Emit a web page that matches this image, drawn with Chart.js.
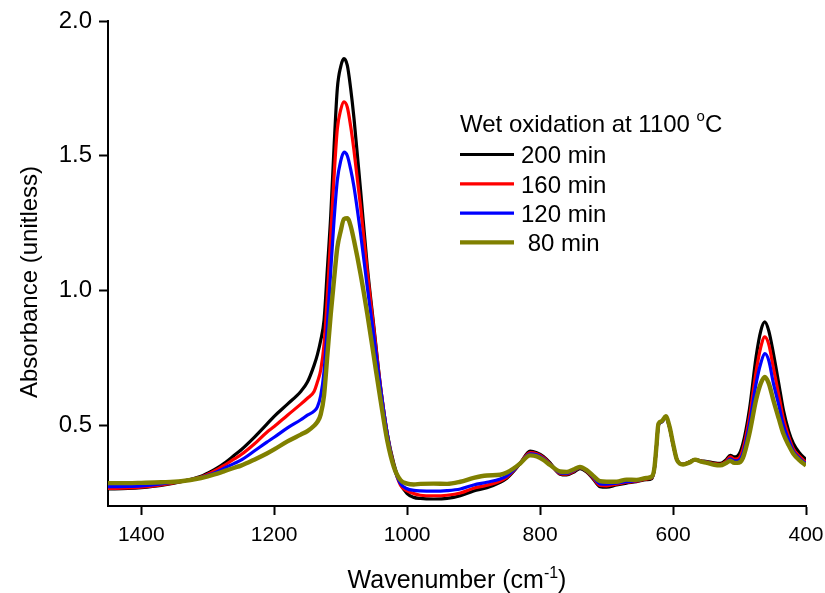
<!DOCTYPE html>
<html>
<head>
<meta charset="utf-8">
<title>FTIR absorbance after wet oxidation</title>
<script src="https://cdn.jsdelivr.net/npm/chart.js@4.4.0/dist/chart.umd.min.js"></script>
<style>
  html, body { margin: 0; padding: 0; background: #fff; }
  #wrap { width: 825px; height: 593px; }
</style>
</head>
<body>
<div id="wrap"><canvas id="spectra" width="825" height="593"></canvas></div>
<script>
'use strict';

/* DATA */
const wavenumbers = [
  1450, 1420, 1400, 1370, 1340, 1310, 1300, 1290, 1280, 1273,
  1260, 1250, 1230, 1211, 1200, 1180, 1160, 1150, 1140, 1135,
  1130, 1125, 1120, 1115, 1110, 1105, 1100, 1095, 1090, 1085,
  1080, 1070, 1060, 1050, 1040, 1030, 1020, 1010, 1000, 990,
  980, 960, 940, 920, 900, 880, 860, 850, 840, 830,
  815, 805, 795, 785, 770, 760, 750, 740, 730, 720,
  710, 700, 685, 670, 655, 640, 632, 628, 625, 622,
  617, 611, 605, 600, 594, 585, 575, 567, 558, 549,
  538, 529, 520, 514, 508, 503, 495, 485, 475, 468,
  462, 456, 449, 441, 434, 426, 419, 410, 400
];

const abs200 = [
  0.263, 0.265, 0.268, 0.276, 0.290, 0.310, 0.322, 0.335, 0.350, 0.362,
  0.388, 0.408, 0.455, 0.504, 0.533, 0.578, 0.625, 0.660, 0.722, 0.762,
  0.815, 0.890, 1.080, 1.275, 1.530, 1.750, 1.830, 1.860, 1.835, 1.750,
  1.640, 1.370, 1.090, 0.865, 0.642, 0.470, 0.357, 0.283, 0.246, 0.232,
  0.228, 0.226, 0.228, 0.238, 0.256, 0.268, 0.288, 0.303, 0.328, 0.358,
  0.404, 0.398, 0.384, 0.360, 0.318, 0.315, 0.325, 0.339, 0.326, 0.300,
  0.272, 0.270, 0.278, 0.285, 0.290, 0.298, 0.302, 0.340, 0.420, 0.500,
  0.512, 0.530, 0.490, 0.430, 0.372, 0.355, 0.364, 0.372, 0.368, 0.365,
  0.360, 0.358, 0.372, 0.388, 0.382, 0.385, 0.430, 0.560, 0.755, 0.850,
  0.883, 0.850, 0.766, 0.655, 0.556, 0.478, 0.432, 0.398, 0.372
];

const abs160 = [
  0.265, 0.267, 0.270, 0.278, 0.291, 0.308, 0.318, 0.330, 0.344, 0.354,
  0.375, 0.390, 0.430, 0.474, 0.495, 0.537, 0.578, 0.600, 0.625, 0.660,
  0.705, 0.800, 0.980, 1.200, 1.420, 1.600, 1.670, 1.700, 1.680, 1.610,
  1.520, 1.310, 1.070, 0.855, 0.642, 0.469, 0.350, 0.277, 0.256, 0.246,
  0.240, 0.238, 0.240, 0.248, 0.266, 0.277, 0.293, 0.307, 0.331, 0.359,
  0.398, 0.394, 0.380, 0.357, 0.320, 0.318, 0.328, 0.342, 0.329, 0.303,
  0.276, 0.275, 0.281, 0.288, 0.292, 0.300, 0.304, 0.340, 0.420, 0.502,
  0.513, 0.530, 0.490, 0.430, 0.371, 0.355, 0.363, 0.372, 0.367, 0.363,
  0.357, 0.355, 0.366, 0.382, 0.374, 0.375, 0.410, 0.530, 0.700, 0.790,
  0.828, 0.800, 0.712, 0.612, 0.524, 0.458, 0.412, 0.385, 0.362
];

const abs120 = [
  0.272, 0.273, 0.275, 0.282, 0.292, 0.306, 0.314, 0.323, 0.334, 0.343,
  0.358, 0.370, 0.404, 0.437, 0.455, 0.490, 0.520, 0.537, 0.552, 0.568,
  0.610, 0.700, 0.870, 1.070, 1.260, 1.410, 1.480, 1.513, 1.500, 1.450,
  1.385, 1.210, 1.013, 0.828, 0.636, 0.469, 0.345, 0.283, 0.264, 0.258,
  0.256, 0.255, 0.257, 0.263, 0.278, 0.288, 0.300, 0.312, 0.333, 0.359,
  0.394, 0.390, 0.376, 0.355, 0.323, 0.321, 0.331, 0.343, 0.331, 0.307,
  0.282, 0.281, 0.285, 0.290, 0.294, 0.302, 0.306, 0.340, 0.420, 0.500,
  0.512, 0.528, 0.490, 0.430, 0.370, 0.354, 0.362, 0.372, 0.366, 0.362,
  0.355, 0.353, 0.362, 0.375, 0.368, 0.368, 0.395, 0.505, 0.655, 0.730,
  0.766, 0.740, 0.655, 0.575, 0.500, 0.445, 0.403, 0.378, 0.357
];

const abs80 = [
  0.285, 0.285, 0.286, 0.288, 0.292, 0.304, 0.310, 0.317, 0.325, 0.331,
  0.342, 0.350, 0.372, 0.395, 0.410, 0.440, 0.465, 0.478, 0.498, 0.512,
  0.540, 0.610, 0.760, 0.910, 1.040, 1.160, 1.220, 1.265, 1.268, 1.240,
  1.186, 1.060, 0.914, 0.753, 0.593, 0.444, 0.345, 0.296, 0.283, 0.280,
  0.282, 0.283, 0.282, 0.290, 0.304, 0.313, 0.316, 0.324, 0.339, 0.358,
  0.388, 0.384, 0.371, 0.352, 0.328, 0.326, 0.335, 0.345, 0.333, 0.312,
  0.292, 0.290, 0.290, 0.298, 0.297, 0.304, 0.309, 0.342, 0.422, 0.505,
  0.515, 0.533, 0.492, 0.432, 0.370, 0.354, 0.362, 0.372, 0.365, 0.360,
  0.353, 0.351, 0.360, 0.368, 0.360, 0.360, 0.378, 0.470, 0.595, 0.655,
  0.679, 0.655, 0.592, 0.525, 0.468, 0.425, 0.394, 0.370, 0.350
];

const seriesLabels = ['200 min', '160 min', '120 min', ' 80 min'];
const seriesValues = [abs200, abs160, abs120, abs80];
const seriesColors = ['#000000', '#ff0000', '#0000ff', '#808000'];
const seriesWidths = [3.2, 3.2, 3.2, 4.4];

const xTicks = [1400, 1200, 1000, 800, 600, 400];
const yTicks = [0.5, 1.0, 1.5, 2.0];

const FONT = '"Liberation Sans", Arial, Helvetica, sans-serif';

/* axis titles and the legend block, drawn on top of the chart */
const annotations = {
  id: 'annotations',
  afterDraw(chart) {
    const ctx = chart.ctx;
    const area = chart.chartArea;
    ctx.save();
    ctx.fillStyle = '#000';
    ctx.textBaseline = 'alphabetic';

    // x title with superscript -1
    const mainFont = `25px ${FONT}`;
    const supFont = `16px ${FONT}`;
    const base = 'Wavenumber (cm';
    const close = ')';
    ctx.font = mainFont;
    const wBase = ctx.measureText(base).width;
    const wClose = ctx.measureText(close).width;
    ctx.font = supFont;
    const wSup = ctx.measureText('-1').width;
    const tx = (area.left + area.right) / 2 - (wBase + wSup + wClose) / 2;
    const ty = 588;
    ctx.textAlign = 'left';
    ctx.font = mainFont;
    ctx.fillText(base, tx, ty);
    ctx.font = supFont;
    ctx.fillText('-1', tx + wBase, ty - 10);
    ctx.font = mainFont;
    ctx.fillText(close, tx + wBase + wSup, ty);

    // y title
    ctx.save();
    ctx.translate(37, 282);
    ctx.rotate(-Math.PI / 2);
    ctx.textAlign = 'center';
    ctx.font = `24px ${FONT}`;
    ctx.fillText('Absorbance (unitless)', 0, 0);
    ctx.restore();

    // legend title
    ctx.textAlign = 'left';
    ctx.font = `24px ${FONT}`;
    const head = 'Wet oxidation at 1100 ';
    ctx.fillText(head, 460, 132);
    const wHead = ctx.measureText(head).width;
    ctx.font = `15px ${FONT}`;
    ctx.fillText('o', 460 + wHead, 121);
    const wO = ctx.measureText('o').width;
    ctx.font = `24px ${FONT}`;
    ctx.fillText('C', 460 + wHead + wO, 132);

    // legend rows
    seriesLabels.forEach((label, i) => {
      const y = 154.5 + i * 29.3;
      ctx.strokeStyle = seriesColors[i];
      ctx.lineWidth = seriesWidths[i];
      ctx.beginPath();
      ctx.moveTo(460, y);
      ctx.lineTo(514, y);
      ctx.stroke();
      ctx.fillText(label, 521, y + 8.8);
    });
    ctx.restore();
  }
};

const datasets = seriesValues.map((vals, i) => ({
  label: seriesLabels[i],
  data: vals.map((v, j) => ({ x: wavenumbers[j], y: v })),
  borderColor: seriesColors[i],
  borderWidth: seriesWidths[i],
  pointRadius: 0,
  fill: false,
  cubicInterpolationMode: 'monotone',
  order: seriesValues.length - i   // 80 min drawn last, on top
}));

new Chart(document.getElementById('spectra'), {
  type: 'line',
  data: { datasets },
  plugins: [annotations],
  options: {
    responsive: false,
    animation: false,
    devicePixelRatio: 1,
    layout: { padding: { left: 0, right: 19, top: 21, bottom: 0 } },
    plugins: {
      legend: { display: false },
      tooltip: { enabled: false },
      title: { display: false }
    },
    scales: {
      x: {
        type: 'linear',
        reverse: true,
        min: 400,
        max: 1450,
        afterBuildTicks: axis => { axis.ticks = xTicks.map(v => ({ value: v })); },
        afterFit: axis => {
          axis.height = 87;
          axis.paddingLeft = 0;
          axis.paddingRight = 0;
        },
        grid: { drawOnChartArea: false, drawTicks: true, tickLength: 9, tickColor: '#000', tickWidth: 2 },
        border: { display: true, color: '#000', width: 2 },
        ticks: {
          color: '#000',
          font: { family: FONT, size: 21 },
          padding: 8,
          maxRotation: 0,
          callback: v => String(v)
        }
      },
      y: {
        type: 'linear',
        min: 0.2,
        max: 2.0,
        afterBuildTicks: axis => { axis.ticks = yTicks.map(v => ({ value: v })); },
        afterFit: axis => {
          axis.width = 108;
          axis.paddingTop = 0;
          axis.paddingBottom = 0;
        },
        grid: { drawOnChartArea: false, drawTicks: true, tickLength: 9, tickColor: '#000', tickWidth: 2 },
        border: { display: true, color: '#000', width: 2 },
        ticks: {
          color: '#000',
          font: { family: FONT, size: 24 },
          padding: 7,
          callback: v => v.toFixed(1)
        }
      }
    }
  }
});
</script>
</body>
</html>
